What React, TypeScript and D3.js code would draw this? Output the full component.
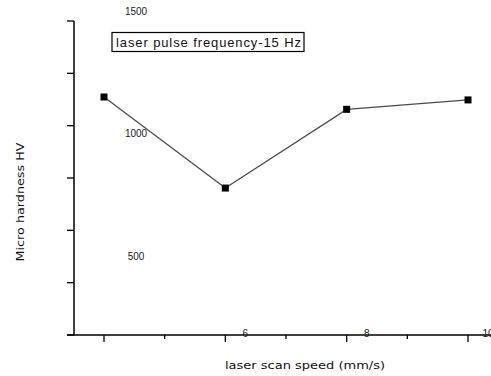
// @ts-nocheck
import React, { useEffect, useRef } from "react";
import * as d3 from "d3";

const speeds = [4, 6, 8, 10];
const hardness = [1137, 702, 1078, 1123];
const xTickValues = [4, 5, 6, 7, 8, 9, 10];
const xLabelValues = [6, 8, 10];
const yTickValues = [0, 250, 500, 750, 1000, 1250, 1500];
const yLabelValues = [500, 1000, 1500];
const legendText = "laser pulse frequency-15 Hz";

function App() {
  const ref = useRef(null);

  useEffect(() => {
    const width = 491,
      height = 376;
    const svg = d3.select(ref.current);
    svg.selectAll("*").remove();

    const font = "'Liberation Sans', Arial, sans-serif";
    const wideFont = "'DejaVu Sans', Verdana, sans-serif";

    var x = d3.scaleLinear().domain([4, 10]).range([104, 468]);
    var y = d3.scaleLinear().domain([0, 1500]).range([335, 21]);
    // the tick labels sit off from the ticks in the original
    var xLab = d3.scaleLinear().domain([4, 10]).range([124, 488]);
    var yLab = d3.scaleLinear().domain([0, 1500]).range([382, 15]);

    const axisX = 74;

    // y axis
    svg
      .append("line")
      .attr("x1", axisX)
      .attr("x2", axisX)
      .attr("y1", y(1500))
      .attr("y2", y(0))
      .attr("stroke", "#000")
      .attr("stroke-width", 1.5);
    svg
      .selectAll(".ytick")
      .data(yTickValues)
      .enter()
      .append("line")
      .attr("x1", axisX - 7)
      .attr("x2", axisX)
      .attr("y1", (d) => y(d))
      .attr("y2", (d) => y(d))
      .attr("stroke", "#000")
      .attr("stroke-width", 1.3);
    svg
      .selectAll(".ylab")
      .data(yLabelValues)
      .enter()
      .append("text")
      .attr("x", 136)
      .attr("y", (d) => yLab(d))
      .attr("text-anchor", "middle")
      .style("font-family", font)
      .style("font-size", "10px")
      .attr("fill", "#222")
      .text((d) => d);

    // x axis
    svg
      .append("line")
      .attr("x1", axisX - 7)
      .attr("x2", width)
      .attr("y1", y(0))
      .attr("y2", y(0))
      .attr("stroke", "#000")
      .attr("stroke-width", 1.5);
    svg
      .selectAll(".xtick")
      .data(xTickValues)
      .enter()
      .append("line")
      .attr("x1", (d) => x(d))
      .attr("x2", (d) => x(d))
      .attr("y1", y(0))
      .attr("y2", (d) => y(0) + (d % 2 === 0 ? 7 : 4))
      .attr("stroke", "#000")
      .attr("stroke-width", 1.3);
    svg
      .selectAll(".xlab")
      .data(xLabelValues)
      .enter()
      .append("text")
      .attr("x", (d) => xLab(d))
      .attr("y", 337)
      .attr("text-anchor", "middle")
      .style("font-family", font)
      .style("font-size", "10px")
      .attr("fill", "#222")
      .text((d) => d);

    // axis titles
    svg
      .append("text")
      .attr("transform", "translate(24," + 202 + ") rotate(-90)")
      .attr("text-anchor", "middle")
      .style("font-family", wideFont)
      .style("font-size", "10.5px")
      .attr("fill", "#111")
      .attr("textLength", 119)
      .attr("lengthAdjust", "spacingAndGlyphs")
      .text("Micro hardness HV");
    svg
      .append("text")
      .attr("x", 305)
      .attr("y", 369)
      .attr("text-anchor", "middle")
      .style("font-family", wideFont)
      .style("font-size", "11px")
      .attr("fill", "#111")
      .attr("textLength", 160)
      .attr("lengthAdjust", "spacingAndGlyphs")
      .text("laser scan speed (mm/s)");

    // the line + square markers
    const pts = speeds.map((s, i) => [x(s), y(hardness[i])]);
    svg
      .append("path")
      .attr("d", d3.line()(pts))
      .attr("fill", "none")
      .attr("stroke", "#4a4a4a")
      .attr("stroke-width", 1.3);
    svg
      .selectAll(".pt")
      .data(pts)
      .enter()
      .append("rect")
      .attr("x", (d) => d[0] - 3.5)
      .attr("y", (d) => d[1] - 3.5)
      .attr("width", 7)
      .attr("height", 7)
      .attr("fill", "#000");

    // legend box
    svg
      .append("rect")
      .attr("x", 112)
      .attr("y", 32.5)
      .attr("width", 192)
      .attr("height", 19)
      .attr("fill", "#fff")
      .attr("stroke", "#000")
      .attr("stroke-width", 1.2);
    svg
      .append("text")
      .attr("x", 116)
      .attr("y", 47)
      .style("font-family", font)
      .style("font-size", "13px")
      .attr("fill", "#111")
      .attr("textLength", 185)
      .text(legendText);
  }, []);

  return (
    <svg
      ref={ref}
      width={491}
      height={376}
      style={{ position: "absolute", left: 0, top: 0, background: "#fff" }}
    />
  );
}

export default App;
